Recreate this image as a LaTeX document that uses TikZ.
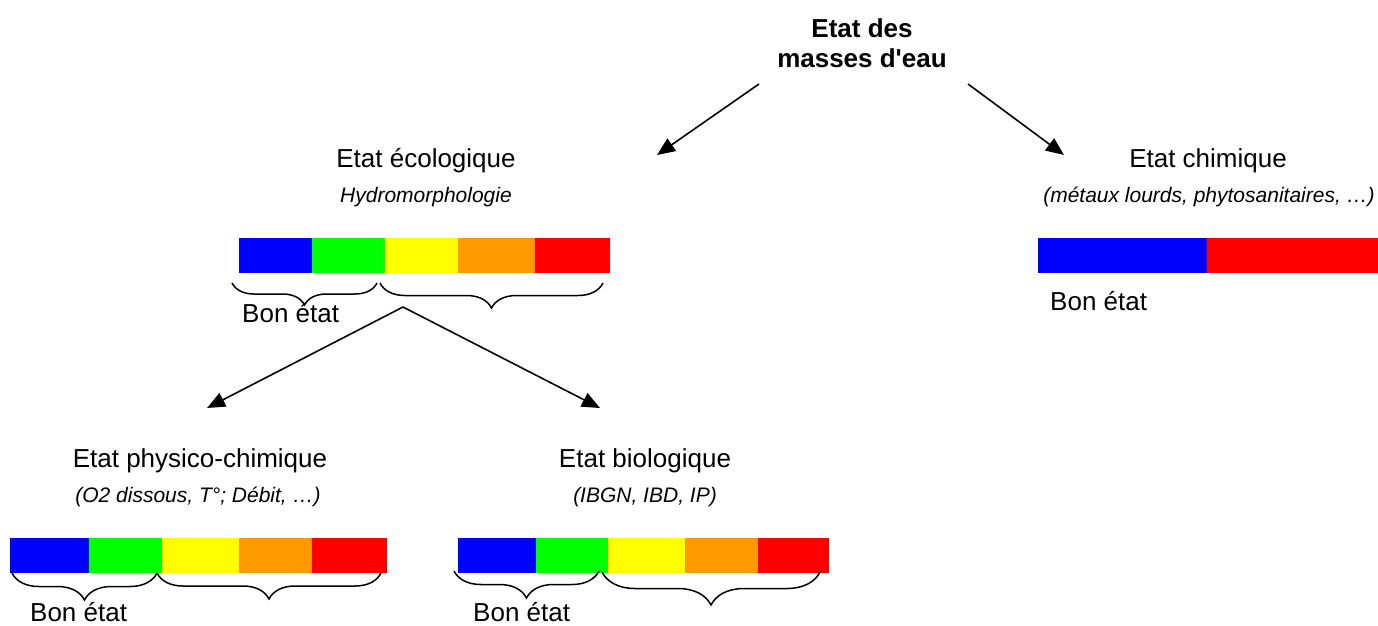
\documentclass[tikz,border=0pt]{standalone}
\usepackage{fontspec}
\setmainfont[Ligatures=TeXOff]{Liberation Sans}
\usetikzlibrary{arrows.meta,decorations.pathreplacing,calc}

\definecolor{bleu}{HTML}{0000FF}
\definecolor{vert}{HTML}{00FF00}
\definecolor{jaune}{HTML}{FFFF00}
\definecolor{orange}{HTML}{FF9900}
\definecolor{rouge}{HTML}{FF0000}

\begin{document}
\begin{tikzpicture}[
        x=1pt, y=-1pt,
        font=\fontsize{26}{30}\selectfont,
        titre/.style={font=\fontsize{26}{30}\selectfont\bfseries, align=center, inner sep=0pt},
        etat/.style={anchor=base, inner sep=0pt},
        detail/.style={anchor=base, inner sep=0pt, font=\fontsize{21}{25}\selectfont\itshape},
        seg/.style={anchor=north west, inner sep=0pt, outer sep=0pt, minimum height=35},
        fleche/.style={-{Triangle[length=18pt,width=15pt]}, line width=1.6pt},
        accolade/.style={decorate, decoration={brace, mirror, amplitude=#1}, line width=1.5pt}
    ]
        \useasboundingbox (0,0) rectangle (1378,625);

        % Titre
        \node[titre] (titre) at (862,43) {Etat des\\masses d'eau};

        % Etat ecologique
        \node[etat] (eco) at (426,167) {Etat écologique};
        \node[detail] (ecoDet) at (426,202) {Hydromorphologie};
        \foreach \nom/\x/\w/\c in {eco1/239/73/bleu, eco2/312/73/vert, eco3/385/73/jaune,
                                   eco4/458/77/orange, eco5/535/75/rouge}
            \node[seg, fill=\c, minimum width=\w] (\nom) at (\x,238) {};
        \draw[accolade=22] ($(eco1.south west)+(-7,10)$) -- ($(eco2.south east)+(-8,10)$);
        \draw[accolade=25] ($(eco3.south west)+(-5,10)$) -- ($(eco5.south east)+(-7,10)$);
        \node[etat, anchor=base west] (bonEco) at (242,322) {Bon état};

        % Etat chimique
        \node[etat] (chim) at (1208,167) {Etat chimique};
        \node[detail] (chimDet) at (1209,202) {(métaux lourds, phytosanitaires, …)};
        \node[seg, fill=bleu, minimum width=169] (chim1) at (1038,238) {};
        \node[seg, fill=rouge, minimum width=171] (chim2) at (1207,238) {};
        \node[etat, anchor=base west] (bonChim) at (1050,310) {Bon état};

        % Etat physico-chimique
        \node[etat] (phys) at (200,467) {Etat physico-chimique};
        \node[detail] (physDet) at (198,502) {(O2 dissous, T°; Débit, …)};
        \foreach \nom/\x/\w/\c in {phys1/10/79/bleu, phys2/89/73/vert, phys3/162/77/jaune,
                                   phys4/239/73/orange, phys5/312/75/rouge}
            \node[seg, fill=\c, minimum width=\w] (\nom) at (\x,538) {};
        \draw[accolade=27] ($(phys1.south west)+(2,0)$) -- ($(phys2.south east)+(-5,0)$);
        \draw[accolade=26] ($(phys3.south west)+(-5,0)$) -- ($(phys5.south east)+(-6,0)$);
        \node[etat, anchor=base west] (bonPhys) at (30,621) {Bon état};

        % Etat biologique
        \node[etat] (bio) at (645,467) {Etat biologique};
        \node[detail] (bioDet) at (645,502) {(IBGN, IBD, IP)};
        \foreach \nom/\x/\w/\c in {bio1/458/78/bleu, bio2/536/72/vert, bio3/608/77/jaune,
                                   bio4/685/73/orange, bio5/758/71/rouge}
            \node[seg, fill=\c, minimum width=\w] (\nom) at (\x,538) {};
        \draw[accolade=27] ($(bio1.south west)+(-4,-2)$) -- ($(bio2.south east)+(-9,-2)$);
        \draw[accolade=33] ($(bio3.south west)+(-6,-1)$) -- ($(bio5.south east)+(-9,-1)$);
        \node[etat, anchor=base west] (bonBio) at (473,621) {Bon état};

        % Fleches
        \coordinate (depEco) at (759,84);
        \coordinate (finEco) at (657,155);
        \coordinate (depChim) at (968,84);
        \coordinate (finChim) at (1064,155);
        \coordinate (sommet) at (403,307);
        \coordinate (finPhys) at (207,408);
        \coordinate (finBio) at (600,408);
        \draw[fleche] (depEco) -- (finEco);
        \draw[fleche] (depChim) -- (finChim);
        \draw[fleche] (sommet) -- (finPhys);
        \draw[fleche] (sommet) -- (finBio);

    \end{tikzpicture}
\end{document}
